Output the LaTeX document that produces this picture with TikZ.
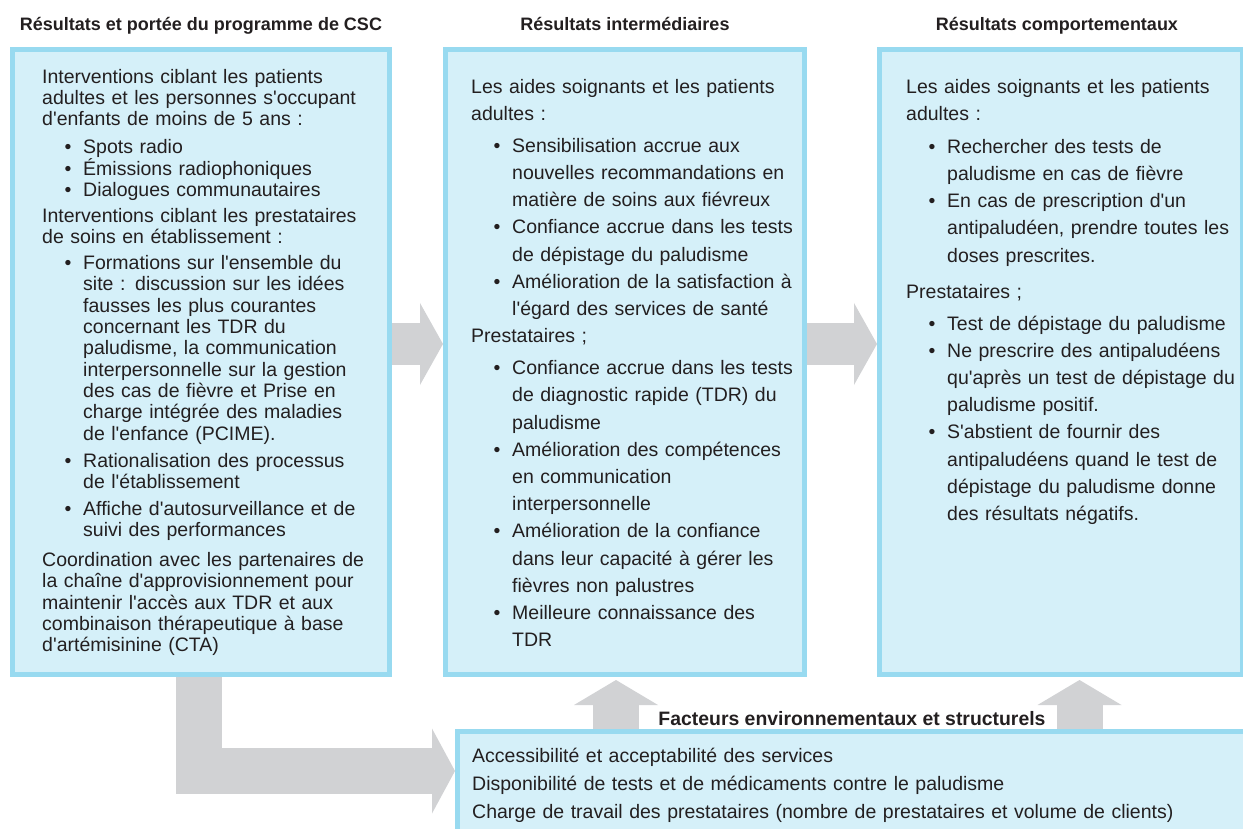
\documentclass[tikz,border=0pt]{standalone}
\usepackage{fontspec}
\setmainfont{Liberation Sans}
\newfontfamily\bodyfont{Liberation Sans}
\usepackage{tikz}
\usetikzlibrary{arrows.meta, positioning}
\usepackage{xcolor}
\definecolor{boxfill}{RGB}{213,240,249}
\definecolor{boxline}{RGB}{152,218,240}
\definecolor{arrowgray}{RGB}{209,210,212}
\definecolor{ink}{RGB}{35,31,32}
\newcommand{\bitem}{\hspace*{22.5pt}\makebox[18.5pt][l]{\textbullet}}
\newcommand{\bcont}{\hspace*{41pt}}
\newcommand{\tightlines}{\lineskiplimit=-100pt\lineskip=0pt}

\begin{document}
\begin{tikzpicture}[
    x=1pt, y=-1pt,
    panel/.style={rectangle, draw=boxline, fill=boxfill, line width=5pt, minimum height=625pt},
    heading/.style={anchor=base, inner sep=0pt, text=ink, font=\bodyfont\bfseries\fontsize{18}{20}\selectfont},
    bodytext/.style={anchor=north west, inner sep=0pt, text width=520pt, align=left, text=ink, font=\bodyfont\fontsize{19.5}{27.2}\selectfont\tightlines},
    bigarrow/.style={arrowgray, line width=42pt, -{Triangle[width=82pt, length=23pt, line width=0pt]}},
    uparrow/.style={bigarrow, line width=46pt, -{Triangle[width=84pt, length=25pt, line width=0pt]}}
]
\useasboundingbox (0,0) rectangle (1243,829);
\clip (0,0) rectangle (1243,829);

\node[panel, minimum width=377pt] (prog) at (201,362) {};
\node[panel, minimum width=359pt] (inter) at (625,362) {};
\node[panel, minimum width=363pt] (behav) at (1061,362) {};
\node[panel, minimum width=788pt, minimum height=106pt] (env) at (851.5,784.5) {};

\node[heading] (progtitle) at (201,31) {Résultats et portée du programme de CSC};
\node[heading] (intertitle) at (625,31) {Résultats intermédiaires};
\node[heading] (behavtitle) at (1057,31) {Résultats comportementaux};
\node[heading, font=\bodyfont\bfseries\fontsize{19.4}{21}\selectfont] (envtitle) at (852,725) {Facteurs environnementaux et structurels};

\node[bodytext, font=\bodyfont\fontsize{19.5}{21.3}\selectfont\tightlines] (progtext) at (42,67) {\rule{0pt}{16pt}Interventions ciblant les patients\\
adultes et les personnes s'occupant\\
d'enfants de moins de 5 ans :\\[6.7pt]
\bitem Spots radio\\
\bitem Émissions radiophoniques\\
\bitem Dialogues communautaires\\[4.7pt]
Interventions ciblant les prestataires\\
de soins en établissement :\\[4.7pt]
\bitem Formations sur l'ensemble du\\
\bcont site : discussion sur les idées\\
\bcont fausses les plus courantes\\
\bcont concernant les TDR du\\
\bcont paludisme, la communication\\
\bcont interpersonnelle sur la gestion\\
\bcont des cas de fièvre et Prise en\\
\bcont charge intégrée des maladies\\
\bcont de l'enfance (PCIME).\\[5.7pt]
\bitem Rationalisation des processus\\
\bcont de l'établissement\\[5.7pt]
\bitem Affiche d'autosurveillance et de\\
\bcont suivi des performances\\[8.7pt]
Coordination avec les partenaires de\\
la chaîne d'approvisionnement pour\\
maintenir l'accès aux TDR et aux\\
combinaison thérapeutique à base\\
d'artémisinine (CTA)};

\node[bodytext] (intertext) at (471,77) {\rule{0pt}{16pt}Les aides soignants et les patients\\
adultes :\\[4.8pt]
\bitem Sensibilisation accrue aux\\
\bcont nouvelles recommandations en\\
\bcont matière de soins aux fiévreux\\
\bitem Confiance accrue dans les tests\\
\bcont de dépistage du paludisme\\
\bitem Amélioration de la satisfaction à\\
\bcont l'égard des services de santé\\
Prestataires ;\\[4.8pt]
\bitem Confiance accrue dans les tests\\
\bcont de diagnostic rapide (TDR) du\\
\bcont paludisme\\
\bitem Amélioration des compétences\\
\bcont en communication\\
\bcont interpersonnelle\\
\bitem Amélioration de la confiance\\
\bcont dans leur capacité à gérer les\\
\bcont fièvres non palustres\\
\bitem Meilleure connaissance des\\
\bcont TDR};

\node[bodytext] (behavtext) at (906,77) {\rule{0pt}{16pt}Les aides soignants et les patients\\
adultes :\\[5.8pt]
\bitem Rechercher des tests de\\
\bcont paludisme en cas de fièvre\\
\bitem En cas de prescription d'un\\
\bcont antipaludéen, prendre toutes les\\
\bcont doses prescrites.\\[8.8pt]
Prestataires ;\\[4.8pt]
\bitem Test de dépistage du paludisme\\
\bitem Ne prescrire des antipaludéens\\
\bcont qu'après un test de dépistage du\\
\bcont paludisme positif.\\
\bitem S'abstient de fournir des\\
\bcont antipaludéens quand le test de\\
\bcont dépistage du paludisme donne\\
\bcont des résultats négatifs.};

\node[bodytext, text width=800pt, font=\bodyfont\fontsize{19.5}{28}\selectfont\tightlines] (envtext) at (472,746) {\rule{0pt}{16pt}Accessibilité et acceptabilité des services\\
Disponibilité de tests et de médicaments contre le paludisme\\
Charge de travail des prestataires (nombre de prestataires et volume de clients)};

\draw[bigarrow] ([yshift=18pt]prog.east) -- ([yshift=18pt]inter.west);
\draw[bigarrow] ([yshift=18pt]inter.east) -- ([yshift=18pt]behav.west);
\draw[bigarrow, line width=46pt, -{Triangle[width=85pt, length=23pt, line width=0pt]}] ([xshift=-2pt]prog.south) |- ([yshift=13.5pt]env.west);
\draw[uparrow] ([xshift=-235.5pt]env.north) -- ([xshift=-9pt, yshift=-3pt]inter.south);
\draw[uparrow] ([xshift=228pt]env.north) -- ([xshift=18.5pt, yshift=-3pt]behav.south);
\end{tikzpicture}
\end{document}
